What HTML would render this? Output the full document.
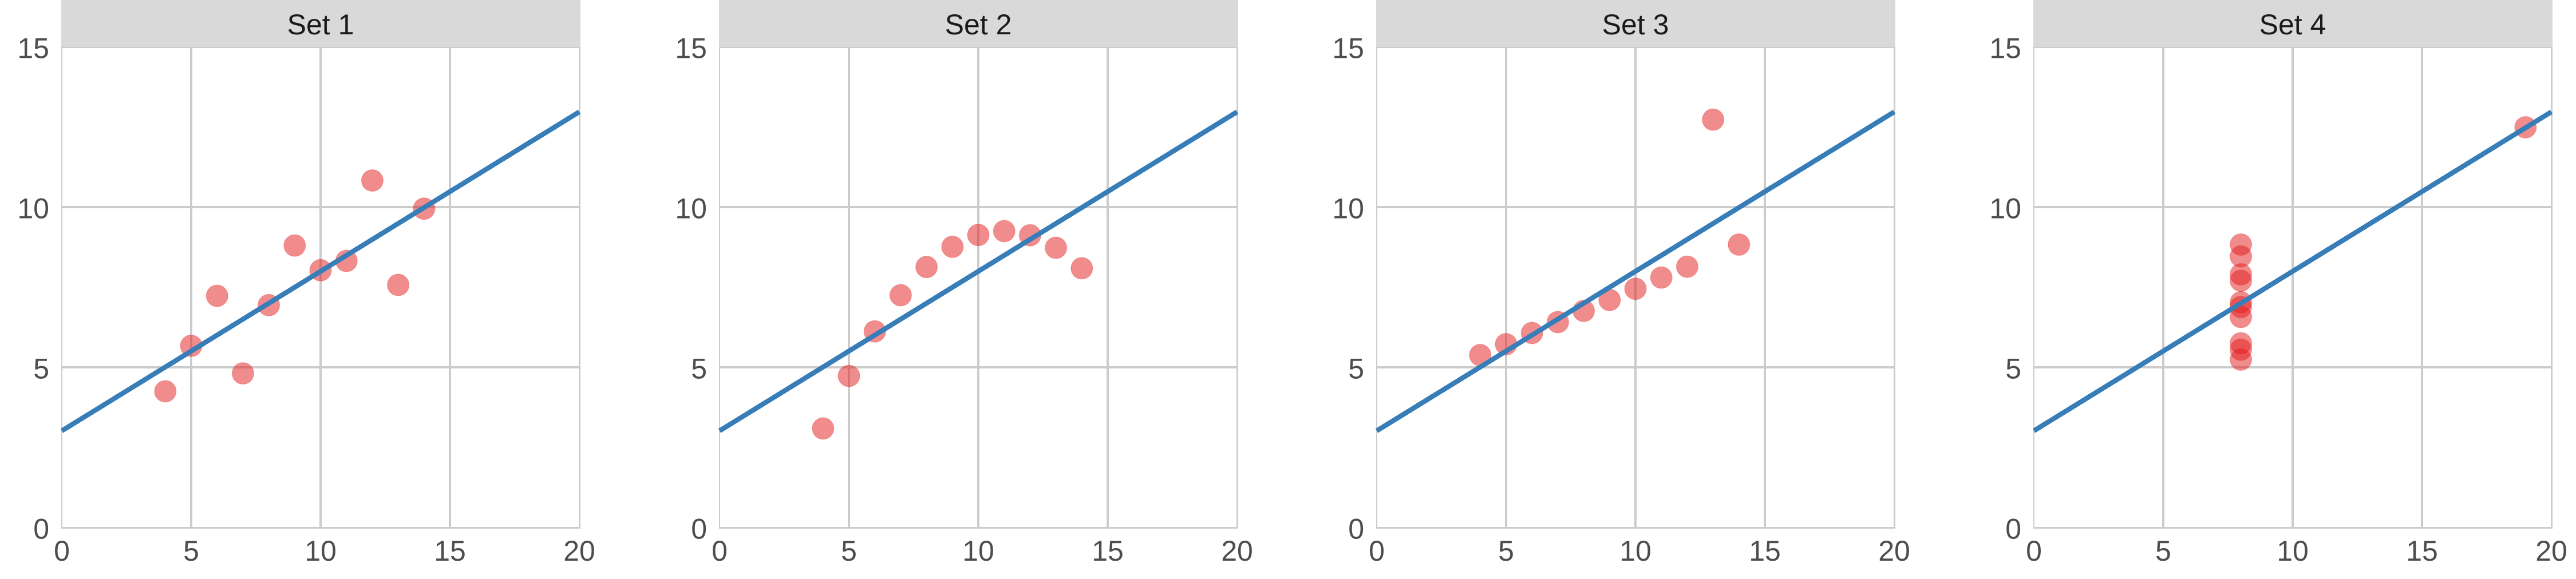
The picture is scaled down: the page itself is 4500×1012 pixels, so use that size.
<!DOCTYPE html>
<html lang="en">
<head>
<meta charset="utf-8">
<title>Anscombe's Quartet</title>
<style>
html,body{margin:0;padding:0;background:#fff;width:4500px;height:1012px;overflow:hidden}
svg{display:block;font-family:"Liberation Sans",Arial,sans-serif}
.tick{font-size:50px;fill:#4d4d4d}
.strip{font-size:50px;fill:#1a1a1a}
</style>
</head>
<body>
<svg id="chart" xmlns="http://www.w3.org/2000/svg" width="4500" height="1012" viewBox="0 0 4500 1012"></svg>
<script>
const setNames = ["Set 1", "Set 2", "Set 3", "Set 4"];
const xValues123 = [10, 8, 13, 9, 11, 14, 6, 4, 12, 7, 5];
const xValues4 = [8, 8, 8, 8, 8, 8, 8, 19, 8, 8, 8];
const ySet1 = [8.04, 6.95, 7.58, 8.81, 8.33, 9.96, 7.24, 4.26, 10.84, 4.82, 5.68];
const ySet2 = [9.14, 8.14, 8.74, 8.77, 9.26, 8.10, 6.13, 3.10, 9.13, 7.26, 4.74];
const ySet3 = [7.46, 6.77, 12.74, 7.11, 7.81, 8.84, 6.08, 5.39, 8.15, 6.42, 5.73];
const ySet4 = [6.58, 5.76, 7.71, 8.84, 8.47, 7.04, 5.25, 12.50, 5.56, 7.91, 6.89];
const xTicks = [0, 5, 10, 15, 20];
const yTicks = [0, 5, 10, 15];
const fitIntercept = 3;
const fitSlope = 0.5;

const xDomainMax = 20;
const yDomainMax = 15;
const panelWidth = 904;
const plotTop = 82;
const plotBottom = 922;
const panelLefts = [108, 1257, 2405, 3553];
const xSeries = [xValues123, xValues123, xValues123, xValues4];
const ySeries = [ySet1, ySet2, ySet3, ySet4];

const SVG_NS = "http://www.w3.org/2000/svg";
const chart = document.getElementById("chart");
const yScale = v => plotBottom - (v / yDomainMax) * (plotBottom - plotTop);

function make(parent, tag, attrs, text) {
  const el = document.createElementNS(SVG_NS, tag);
  for (const k in attrs) el.setAttribute(k, attrs[k]);
  if (text !== undefined) el.textContent = text;
  parent.appendChild(el);
  return el;
}

setNames.forEach((name, p) => {
  const left = panelLefts[p];
  const xScale = v => left + (v / xDomainMax) * panelWidth;
  const slug = "set-" + (p + 1);

  const panel = make(chart, "g", {});
  
  

  const strip = make(panel, "rect", {x: left - 1, y: 0, width: panelWidth + 3, height: plotTop, fill: "#d9d9d9", "shape-rendering": "crispEdges"});
  
  

  const title = make(panel, "text", {x: left + panelWidth / 2, y: 60, "text-anchor": "middle", class: "strip"}, name);
  
  

  xTicks.forEach((t, i) => {
    const isFirst = i === 0;
    const isLast = i === xTicks.length - 1;
    const x = xScale(t) + (isLast ? 0.5 : 0);
    const g = make(panel, "line", {x1: x, x2: x, y1: plotTop, y2: plotBottom + 2, stroke: "#cccccc", "stroke-width": isFirst ? 2 : (isLast ? 3 : 4), "shape-rendering": "crispEdges"});
    
    
    const label = make(panel, "text", {x: xScale(t), y: 980, "text-anchor": "middle", class: "tick"}, String(t));
    
    
  });

  yTicks.forEach((t, i) => {
    const isBottom = i === 0;
    const isTop = i === yTicks.length - 1;
    const y = yScale(t) + (isTop ? 1 : (isBottom ? 0.5 : 0));
    const g = make(panel, "line", {x1: left - 1, x2: left + panelWidth + 2, y1: y, y2: y, stroke: "#cccccc", "stroke-width": isTop ? 2 : (isBottom ? 3 : 4), "shape-rendering": "crispEdges"});
    
    
    const label = make(panel, "text", {x: left - 22, y: yScale(t) + 19.5, "text-anchor": "end", class: "tick"}, String(t));
    
    
  });

  xSeries[p].forEach((xv, i) => {
    const c = make(panel, "circle", {cx: xScale(xv), cy: yScale(ySeries[p][i]) + 0.5, r: 19, fill: "#e41a1c", "fill-opacity": 0.5, stroke: "#e41a1c", "stroke-opacity": 0.25, "stroke-width": 1.2});
    
    
  });

  const fit = make(panel, "line", {
    x1: xScale(xTicks[0]), y1: yScale(fitIntercept + fitSlope * xTicks[0]) - 1,
    x2: xScale(xDomainMax), y2: yScale(fitIntercept + fitSlope * xDomainMax) + 1.5,
    stroke: "#377eb8", "stroke-width": 8.6, "shape-rendering": "crispEdges"
  });
  
  
});
</script>
</body>
</html>
